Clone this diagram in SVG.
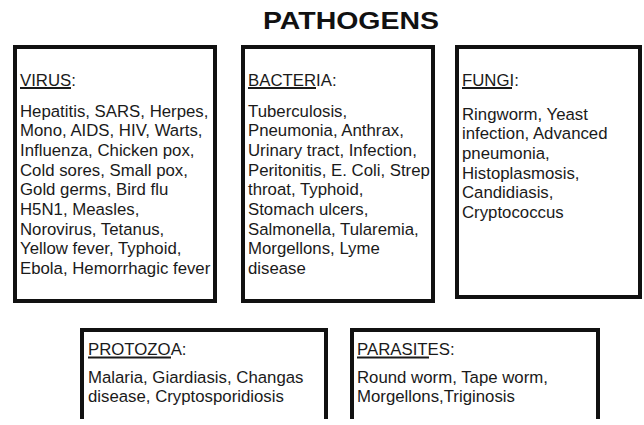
<svg xmlns="http://www.w3.org/2000/svg" width="644" height="425" viewBox="0 0 644 425">
<style>
.box{fill:#fff;stroke:#111;stroke-width:4}
.open{fill:none;stroke:#111;stroke-width:4;stroke-linejoin:miter}
.t{font-family:"Liberation Sans",Arial,sans-serif;font-size:16.8px;fill:#1a1a1a}
.ul{stroke:#1a1a1a;stroke-width:1.8}
.title{font-family:"Liberation Sans",Arial,sans-serif;font-size:24px;font-weight:bold;fill:#111}
</style>
<rect width="644" height="425" fill="#fff"/>
<text class="title" x="263" y="28.5" textLength="176" lengthAdjust="spacingAndGlyphs">PATHOGENS</text>
<g id="connectors"/>
<g id="virus">
<rect class="box" x="15" y="47" width="200" height="254"/>
<text class="t" x="20" y="85.5">VIRUS:</text>
<line class="ul" x1="20" y1="88" x2="71" y2="88"/>
<text class="t" x="20" y="116.5">
<tspan x="20" y="116.5">Hepatitis, SARS, Herpes,</tspan>
<tspan x="20" y="136.2">Mono, AIDS, HIV, Warts,</tspan>
<tspan x="20" y="155.9">Influenza, Chicken pox,</tspan>
<tspan x="20" y="175.6">Cold sores, Small pox,</tspan>
<tspan x="20" y="195.3">Gold germs, Bird flu</tspan>
<tspan x="20" y="215">H5N1, Measles,</tspan>
<tspan x="20" y="234.7">Norovirus, Tetanus,</tspan>
<tspan x="20" y="254.4">Yellow fever, Typhoid,</tspan>
<tspan x="20" y="274.1">Ebola, Hemorrhagic fever</tspan>
</text>
</g>
<g id="bacteria">
<rect class="box" x="243" y="47" width="190" height="254"/>
<text class="t" x="248" y="85.5">BACTERIA:</text>
<line class="ul" x1="248" y1="88" x2="316" y2="88"/>
<text class="t" x="248" y="116.5">
<tspan x="248" y="116.5">Tuberculosis,</tspan>
<tspan x="248" y="136.2">Pneumonia, Anthrax,</tspan>
<tspan x="248" y="155.9">Urinary tract, Infection,</tspan>
<tspan x="248" y="175.6">Peritonitis, E. Coli, Strep</tspan>
<tspan x="248" y="195.3">throat, Typhoid,</tspan>
<tspan x="248" y="215">Stomach ulcers,</tspan>
<tspan x="248" y="234.7">Salmonella, Tularemia,</tspan>
<tspan x="248" y="254.4">Morgellons, Lyme</tspan>
<tspan x="248" y="274.1">disease</tspan>
</text>
</g>
<g id="fungi">
<rect class="box" x="457" y="47" width="183" height="250"/>
<text class="t" x="462" y="85.5">FUNGI:</text>
<line class="ul" x1="462" y1="88" x2="512" y2="88"/>
<text class="t" x="462" y="119.5">
<tspan x="462" y="119.5">Ringworm, Yeast</tspan>
<tspan x="462" y="139.2">infection, Advanced</tspan>
<tspan x="462" y="158.9">pneumonia,</tspan>
<tspan x="462" y="178.6">Histoplasmosis,</tspan>
<tspan x="462" y="198.3">Candidiasis,</tspan>
<tspan x="462" y="218">Cryptococcus</tspan>
</text>
</g>
<g id="protozoa">
<path class="open" d="M82,419 V330 H326 V419"/>
<text class="t" x="88" y="355">PROTOZOA:</text>
<line class="ul" x1="88" y1="357.5" x2="171" y2="357.5"/>
<text class="t" x="88" y="383">
<tspan x="88" y="383">Malaria, Giardiasis, Changas</tspan>
<tspan x="88" y="402">disease, Cryptosporidiosis</tspan>
</text>
</g>
<g id="parasites">
<path class="open" d="M352,419 V330 H598 V419"/>
<text class="t" x="357" y="355">PARASITES:</text>
<line class="ul" x1="357" y1="357.5" x2="429" y2="357.5"/>
<text class="t" x="357" y="383">
<tspan x="357" y="383">Round worm, Tape worm,</tspan>
<tspan x="357" y="402">Morgellons,Triginosis</tspan>
</text>
</g>
</svg>
